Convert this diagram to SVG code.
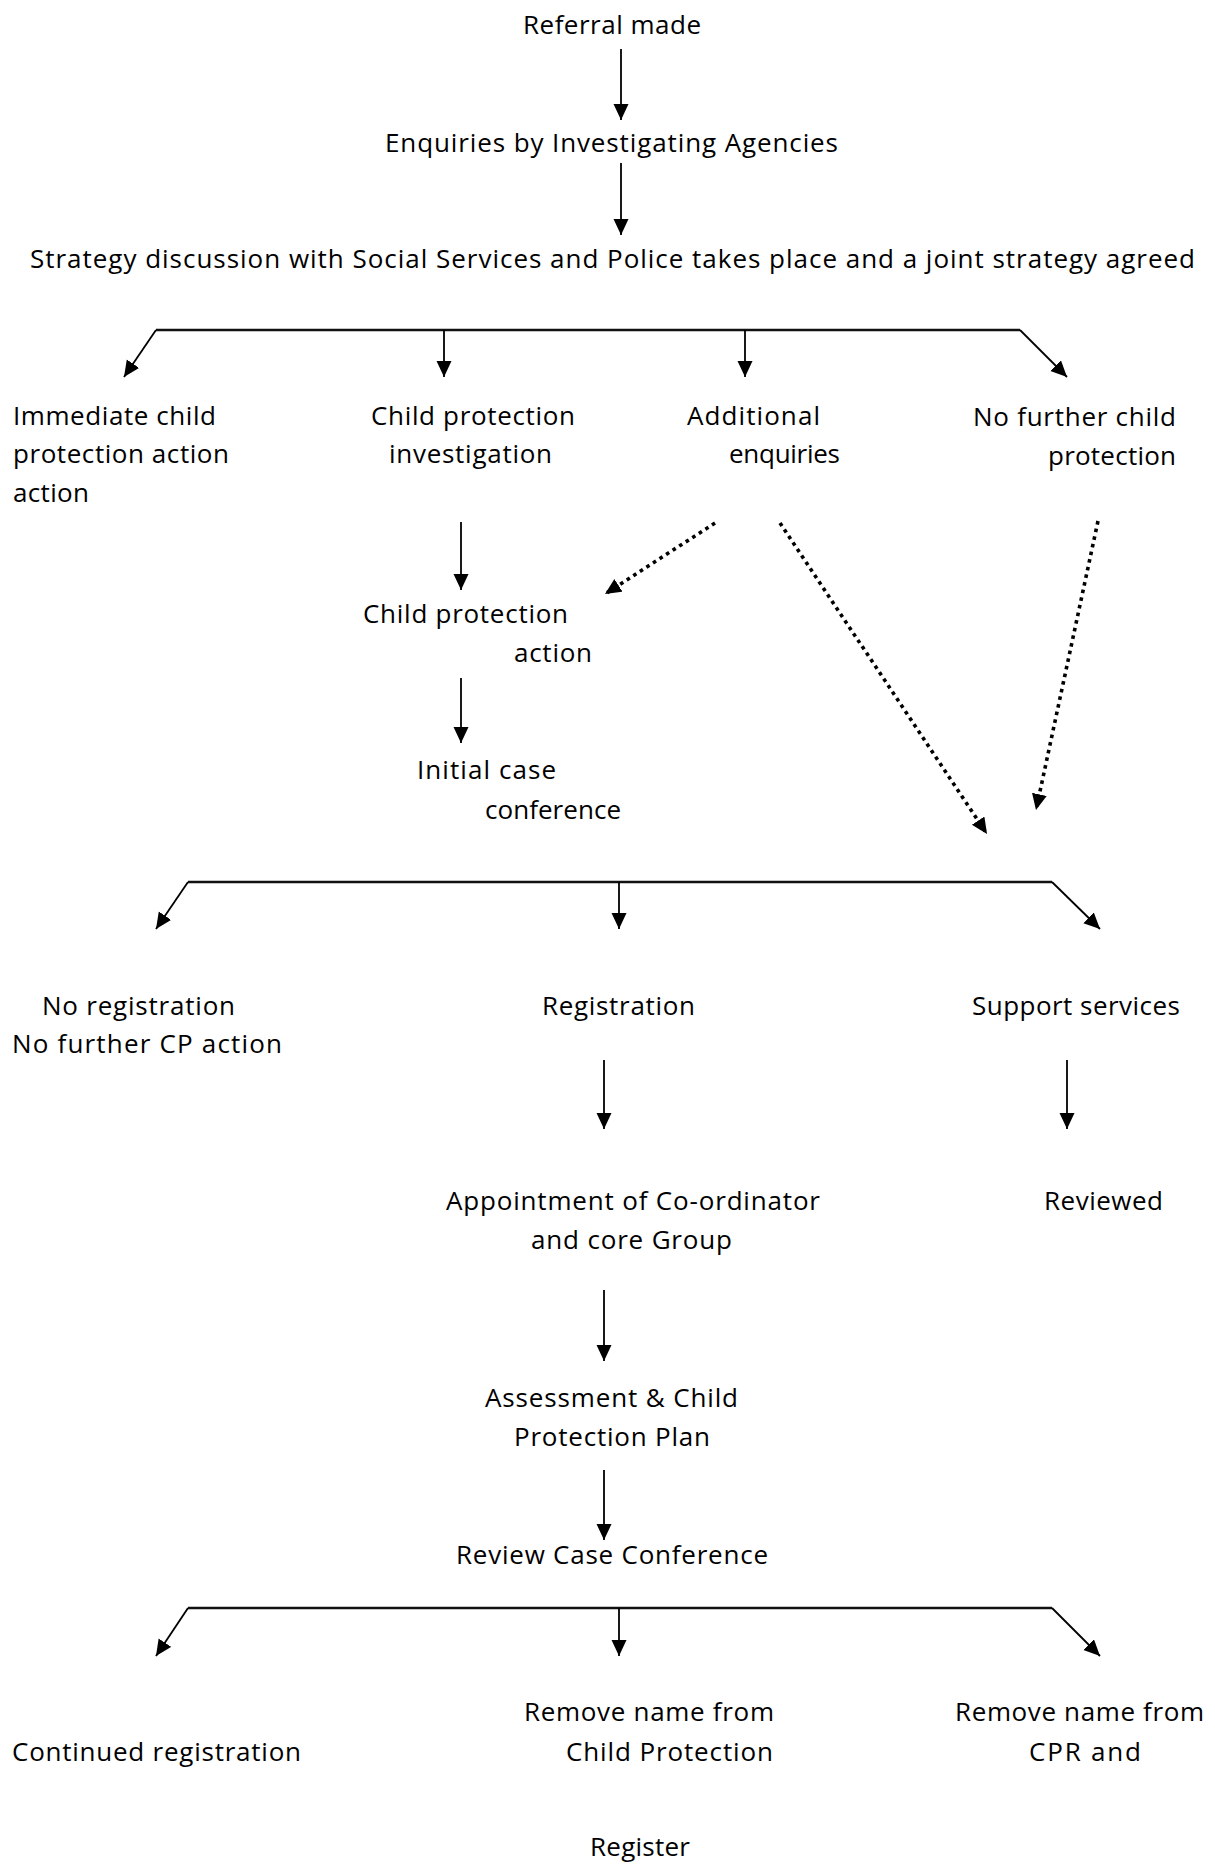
<svg xmlns="http://www.w3.org/2000/svg" width="1215" height="1864" viewBox="0 0 1215 1864">
<defs>
<style>
text{font-family:"Open Sans","Noto Sans","Liberation Sans",sans-serif;font-size:26px;fill:#000;}
.c{fill:none;stroke:#000;stroke-width:1.8;}
.bar{fill:none;stroke:#111;stroke-width:2.4;}
.d{fill:none;stroke:#000;stroke-width:3.6;stroke-dasharray:3.6 4.2;}
</style>
<marker id="ah" markerUnits="userSpaceOnUse" markerWidth="18" markerHeight="16" refX="16" refY="7.5" orient="auto">
<path d="M0,0 L16,7.5 L0,15 z" fill="#000"/>
</marker>
</defs>
<rect width="1215" height="1864" fill="#fff"/>

<g id="connectors">
<line class="c" x1="621" y1="49" x2="621" y2="120" marker-end="url(#ah)"/>
<line class="c" x1="621" y1="163" x2="621" y2="235" marker-end="url(#ah)"/>

<line class="bar" x1="156" y1="330" x2="1020" y2="330"/>
<line class="c" x1="156" y1="330" x2="124" y2="377" marker-end="url(#ah)"/>
<line class="c" x1="444" y1="330" x2="444" y2="377" marker-end="url(#ah)"/>
<line class="c" x1="745" y1="330" x2="745" y2="377" marker-end="url(#ah)"/>
<line class="c" x1="1020" y1="330" x2="1067" y2="377" marker-end="url(#ah)"/>

<line class="c" x1="461" y1="522" x2="461" y2="590" marker-end="url(#ah)"/>
<line class="c" x1="461" y1="678" x2="461" y2="743" marker-end="url(#ah)"/>

<line class="d" x1="715" y1="523" x2="605" y2="594" marker-end="url(#ah)"/>
<line class="d" x1="780" y1="523" x2="987" y2="834" marker-end="url(#ah)"/>
<line class="d" x1="1098" y1="521" x2="1036" y2="810" marker-end="url(#ah)"/>

<line class="bar" x1="188" y1="882" x2="1052" y2="882"/>
<line class="c" x1="188" y1="882" x2="156" y2="929" marker-end="url(#ah)"/>
<line class="c" x1="619" y1="882" x2="619" y2="929" marker-end="url(#ah)"/>
<line class="c" x1="1052" y1="882" x2="1100" y2="929" marker-end="url(#ah)"/>

<line class="c" x1="604" y1="1060" x2="604" y2="1129" marker-end="url(#ah)"/>
<line class="c" x1="1067" y1="1060" x2="1067" y2="1129" marker-end="url(#ah)"/>
<line class="c" x1="604" y1="1290" x2="604" y2="1361" marker-end="url(#ah)"/>
<line class="c" x1="604" y1="1470" x2="604" y2="1540" marker-end="url(#ah)"/>

<line class="bar" x1="188" y1="1608" x2="1052" y2="1608"/>
<line class="c" x1="188" y1="1608" x2="156" y2="1656" marker-end="url(#ah)"/>
<line class="c" x1="619" y1="1608" x2="619" y2="1656" marker-end="url(#ah)"/>
<line class="c" x1="1052" y1="1608" x2="1100" y2="1656" marker-end="url(#ah)"/>
</g>

<g id="referral"><text x="523" y="34" textLength="178">Referral made</text></g>
<g id="enquiries"><text x="385" y="152" textLength="453">Enquiries by Investigating Agencies</text></g>
<g id="strategy"><text x="30" y="268" textLength="1165">Strategy discussion with Social Services and Police takes place and a joint strategy agreed</text></g>

<g id="immediate">
<text x="13" y="425" textLength="203">Immediate child</text>
<text x="13" y="463" textLength="216">protection action</text>
<text x="13" y="502" textLength="76">action</text>
</g>
<g id="cp-investigation">
<text x="371" y="425" textLength="204">Child protection</text>
<text x="389" y="463" textLength="163">investigation</text>
</g>
<g id="additional">
<text x="687" y="425" textLength="133">Additional</text>
<text x="729" y="463" textLength="111">enquiries</text>
</g>
<g id="no-further">
<text x="973" y="426" textLength="203">No further child</text>
<text x="1048" y="465" textLength="128">protection</text>
</g>
<g id="cp-action">
<text x="363" y="623" textLength="205">Child protection</text>
<text x="514" y="662" textLength="78">action</text>
</g>
<g id="initial-conference">
<text x="417" y="779" textLength="139">Initial case</text>
<text x="485" y="819" textLength="136">conference</text>
</g>

<g id="no-registration">
<text x="42" y="1015" textLength="193">No registration</text>
<text x="12" y="1053" textLength="270">No further CP action</text>
</g>
<g id="registration"><text x="542" y="1015" textLength="153">Registration</text></g>
<g id="support"><text x="972" y="1015" textLength="208">Support services</text></g>
<g id="appointment">
<text x="446" y="1210" textLength="374">Appointment of Co-ordinator</text>
<text x="531" y="1249" textLength="201">and core Group</text>
</g>
<g id="reviewed"><text x="1044" y="1210" textLength="119">Reviewed</text></g>
<g id="assessment">
<text x="485" y="1407" textLength="253">Assessment &amp; Child</text>
<text x="514" y="1446" textLength="196">Protection Plan</text>
</g>
<g id="review-conference"><text x="456" y="1564" textLength="312">Review Case Conference</text></g>

<g id="continued"><text x="12" y="1761" textLength="289">Continued registration</text></g>
<g id="remove-cp">
<text x="524" y="1721" textLength="250">Remove name from</text>
<text x="566" y="1761" textLength="207">Child Protection</text>
</g>
<g id="remove-cpr">
<text x="955" y="1721" textLength="249">Remove name from</text>
<text x="1029" y="1761" textLength="112">CPR and</text>
</g>
<g id="register"><text x="590" y="1856" textLength="100">Register</text></g>
</svg>
